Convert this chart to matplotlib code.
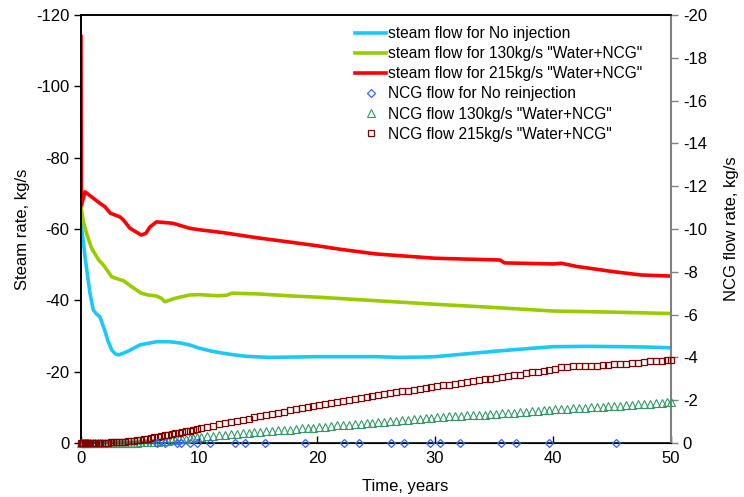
import matplotlib
matplotlib.use("Agg")
import matplotlib.pyplot as plt

plt.rcParams['font.family'] = ['Liberation Sans', 'DejaVu Sans']
plt.rcParams['axes.unicode_minus'] = False

# ---- steam flow lines (left axis, kg/s) ----
t_none = [0, 0.05, 0.34, 0.76, 1.04, 1.3, 1.6, 2.0, 2.3, 2.6,
          2.9, 3.2, 3.9, 5.0, 6.4, 7.5, 8.5, 9.2, 10, 11,
          12, 13, 14, 16, 18, 20, 22, 25, 27, 29,
          30, 32, 35, 38, 40, 43, 46, 48, 50]
steam_none = [-62, -60.6, -52.2, -42, -37.3, -36.2, -35.4, -31.7, -28.5, -26.1,
              -25.0, -24.7, -25.6, -27.5, -28.4, -28.4, -28.0, -27.5, -26.6, -25.8,
              -25.2, -24.7, -24.3, -24.0, -24.1, -24.2, -24.2, -24.2, -24.0, -24.1,
              -24.2, -24.8, -25.7, -26.5, -27.0, -27.1, -27.0, -26.9, -26.7]

t_130 = [0, 0.2, 0.5, 0.9, 1.5, 1.9, 2.6, 3.2, 3.6, 4.3,
         5.1, 5.7, 6.4, 6.8, 7.1, 8.0, 9.2, 10, 11.5, 12.3,
         12.8, 15, 18, 20, 25, 30, 35, 40, 45, 50]
steam_130 = [-66.3, -62, -58.5, -54.6, -51.3, -49.9, -46.6, -45.9, -45.5, -43.8,
             -42, -41.5, -41.2, -40.6, -39.6, -40.6, -41.5, -41.6, -41.3, -41.4,
             -42.0, -41.8, -41.2, -40.9, -39.9, -38.9, -38.0, -37.0, -36.7, -36.3]

t_215 = [0, 0.03, 0.34, 0.9, 1.6, 2.0, 2.5, 3.3, 3.6, 4.15,
         5.1, 5.5, 5.85, 6.4, 7.8, 9.2, 10, 12, 15, 18,
         20, 22, 25, 30, 35.5, 35.9, 40, 40.7, 42, 45.2,
         47.5, 50]
steam_215 = [-114, -66.5, -70.4, -69, -67.2, -66.3, -64.4, -63.4, -62.5, -60.2,
             -58.3, -58.8, -60.6, -62, -61.6, -60.2, -59.8, -59, -57.5, -56.2,
             -55.3, -54.3, -53, -51.8, -51.3, -50.5, -50.2, -50.4, -49.5, -48,
             -47.1, -46.8]

# ---- NCG flow markers (right axis, kg/s) ----
t_ncg_none = [6.4, 7.1, 8.1, 8.45, 9.2, 9.8, 10.9, 13.05, 13.9, 15.6, 19.0,
              22.3, 23.6, 26.3, 27.4, 29.6, 30.4, 32.1, 35.6, 36.9, 39.7, 45.3]
ncg_none = [0, 0, 0, 0, 0, 0, 0, 0, 0, 0, 0,
            0, 0, 0, 0, 0, 0, 0, 0, 0, 0, 0]

t_ncg = [0, 0.1, 0.2, 0.3, 0.4, 0.5, 0.6, 0.8, 1.0, 1.2,
         1.4, 1.6, 1.8, 2.0, 2.25, 2.5, 2.75, 3.0, 3.25, 3.5,
         3.75, 4.0, 4.25, 4.5, 4.75, 5.0, 5.3, 5.6, 5.9, 6.2,
         6.5, 6.8, 7.1, 7.4, 7.7, 8.0, 8.3, 8.6, 8.9, 9.2,
         9.5, 9.8,
         10.2, 10.7, 11.2, 11.7, 12.2, 12.7, 13.2, 13.7, 14.2, 14.7,
         15.2, 15.7, 16.2, 16.7, 17.2, 17.7, 18.2, 18.7, 19.2, 19.7,
         20.2, 20.7, 21.2, 21.7, 22.2, 22.7, 23.2, 23.7, 24.2, 24.7,
         25.2, 25.7, 26.2, 26.7, 27.2, 27.7, 28.2, 28.7, 29.2, 29.7,
         30.2, 30.7, 31.2, 31.7, 32.2, 32.7, 33.2, 33.7, 34.2, 34.7,
         35.2, 35.7, 36.2, 36.7, 37.2, 37.7, 38.2, 38.7, 39.2, 39.7,
         40.2, 40.7, 41.2, 41.7, 42.2, 42.7, 43.2, 43.7, 44.2, 44.7,
         45.2, 45.7, 46.2, 46.7, 47.2, 47.7, 48.2, 48.7, 49.2, 49.7,
         50.0]

ncg_130 = [0, 0, 0, 0, 0, 0, 0, 0, 0, 0,
           0, 0, 0, 0, 0, 0, 0, 0, 0, 0,
           0, -0.01, -0.01, -0.02, -0.02, -0.03, -0.04, -0.05, -0.05, -0.06,
           -0.07, -0.08, -0.10, -0.11, -0.13, -0.15, -0.17, -0.18, -0.20, -0.22,
           -0.24, -0.26,
           -0.29, -0.31, -0.34, -0.36, -0.38, -0.41, -0.43, -0.45, -0.48, -0.50,
           -0.53, -0.54, -0.57, -0.60, -0.61, -0.63, -0.66, -0.68, -0.70, -0.72,
           -0.75, -0.77, -0.80, -0.82, -0.84, -0.86, -0.89, -0.91, -0.93, -0.95,
           -0.98, -1.00, -1.02, -1.04, -1.06, -1.08, -1.10, -1.13, -1.15, -1.17,
           -1.20, -1.22, -1.24, -1.26, -1.27, -1.29, -1.31, -1.32, -1.33, -1.35,
           -1.37, -1.39, -1.40, -1.42, -1.44, -1.46, -1.48, -1.50, -1.52, -1.54,
           -1.57, -1.58, -1.60, -1.62, -1.63, -1.65, -1.67, -1.68, -1.70, -1.72,
           -1.73, -1.75, -1.76, -1.78, -1.80, -1.82, -1.84, -1.86, -1.88, -1.90,
           -1.91]

ncg_215 = [0, 0, 0, 0, 0, -0.01, -0.01, -0.01, -0.01, -0.01,
           -0.01, -0.02, -0.02, -0.02, -0.02, -0.03, -0.03, -0.04, -0.05, -0.05,
           -0.06, -0.08, -0.09, -0.11, -0.13, -0.15, -0.18, -0.21, -0.24, -0.27,
           -0.30, -0.33, -0.36, -0.39, -0.42, -0.45, -0.48, -0.51, -0.54, -0.58,
           -0.61, -0.65,
           -0.69, -0.75, -0.80, -0.87, -0.92, -0.98, -1.03, -1.09, -1.14, -1.20,
           -1.25, -1.31, -1.36, -1.42, -1.47, -1.53, -1.58, -1.63, -1.69, -1.74,
           -1.79, -1.84, -1.88, -1.93, -1.98, -2.02, -2.07, -2.11, -2.16, -2.20,
           -2.24, -2.28, -2.33, -2.37, -2.41, -2.45, -2.49, -2.53, -2.57, -2.61,
           -2.65, -2.69, -2.73, -2.77, -2.81, -2.85, -2.89, -2.93, -2.97, -3.00,
           -3.04, -3.08, -3.12, -3.17, -3.20, -3.25, -3.30, -3.34, -3.38, -3.42,
           -3.47, -3.53, -3.56, -3.58, -3.59, -3.60, -3.60, -3.61, -3.63, -3.65,
           -3.67, -3.69, -3.71, -3.74, -3.76, -3.79, -3.81, -3.83, -3.85, -3.88,
           -3.89]

labels = ['steam flow for No injection',
          'steam flow for 130kg/s "Water+NCG"',
          'steam flow for 215kg/s "Water+NCG"',
          'NCG flow for No reinjection',
          'NCG flow 130kg/s "Water+NCG"',
          'NCG flow 215kg/s "Water+NCG"']

left_ticks = [-120, -100, -80, -60, -40, -20, 0]
right_ticks = [-20, -18, -16, -14, -12, -10, -8, -6, -4, -2, 0]
x_ticks = [0, 10, 20, 30, 40, 50]

c_none, c_130, c_215 = '#1EC8F5', '#99CC00', '#FF0000'
m_none, m_130, m_215 = '#3366FF', '#339966', '#800000'

fig = plt.figure(figsize=(7.44, 4.97), dpi=100)
ax1 = fig.add_axes([81/744, 1-443/497, 590/744, 428/497])
ax2 = ax1.twinx()

lw = 2.6
l1, = ax1.plot(t_none, steam_none, color=c_none, lw=lw, solid_joinstyle='round')
l2, = ax1.plot(t_130, steam_130, color=c_130, lw=lw, solid_joinstyle='round')
l3, = ax1.plot(t_215, steam_215, color=c_215, lw=lw, solid_joinstyle='round')

s1, = ax2.plot(t_ncg_none, ncg_none, ls='none', marker='D', ms=4.2, mfc='none',
               mec=m_none, mew=0.9, clip_on=False, zorder=5)
s2, = ax2.plot(t_ncg, ncg_130, ls='none', marker='^', ms=6, mfc='none',
               mec=m_130, mew=0.8, clip_on=False, zorder=3)
s3, = ax2.plot(t_ncg, ncg_215, ls='none', marker='s', ms=5, mfc='none',
               mec=m_215, mew=0.9, clip_on=False, zorder=4)

ax1.set_xlim(0, 50)
ax1.set_ylim(0, -120)
ax2.set_ylim(0, -20)
ax1.set_xticks(x_ticks)
ax1.set_yticks(left_ticks)
ax2.set_yticks(right_ticks)

fs = 12
ax1.tick_params(axis='y', direction='out', length=5, width=1, labelsize=fs, colors='black')
ax1.tick_params(axis='x', direction='in', length=5, width=1, labelsize=fs, pad=6)
ax2.tick_params(axis='y', direction='out', length=5, width=1, labelsize=fs,
                color='#808080', labelcolor='black')

for sp in ['left', 'bottom', 'top']:
    ax1.spines[sp].set_color('black')
    ax1.spines[sp].set_linewidth(1.2)
ax2.spines['right'].set_color('#808080')
ax2.spines['right'].set_linewidth(1.5)
ax2.spines['top'].set_color('black')
ax2.spines['top'].set_linewidth(1.2)
ax2.spines['left'].set_color('black')
ax2.spines['left'].set_linewidth(1.2)
ax1.spines['right'].set_visible(False)

ax1.set_ylabel('Steam rate, kg/s', fontsize=fs)
ax1.yaxis.set_label_coords(-0.087, 0.5)
ax2.set_ylabel('NCG flow rate, kg/s', fontsize=fs)
ax2.yaxis.set_label_coords(1.089, 0.5)
ax1.set_xlabel('Time, years', fontsize=fs)
ax1.xaxis.set_label_coords(0.549, -0.085)

handles = [l1, l2, l3, s1, s2, s3]
leg = ax2.legend(handles, labels, loc='upper left',
                 bbox_to_anchor=(355/744, 1-26/497), bbox_transform=fig.transFigure,
                 frameon=False, borderpad=0, borderaxespad=0, handlelength=2.0,
                 handletextpad=0.15, labelspacing=0.33, numpoints=1, fontsize=11.2)

fig.savefig('out.png', dpi=100)
